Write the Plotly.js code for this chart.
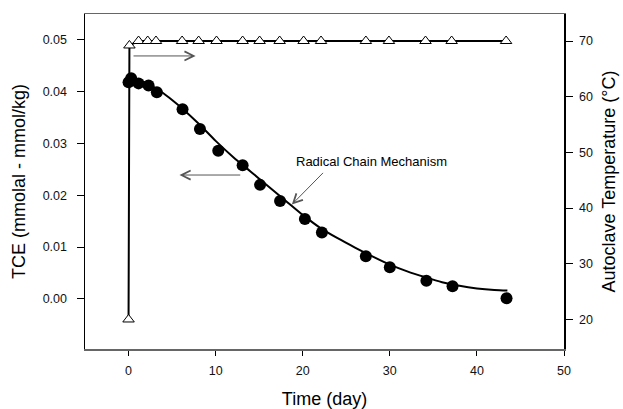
<!DOCTYPE html>
<html><head><meta charset="utf-8">
<script src="https://cdn.plot.ly/plotly-3.0.1.min.js"></script>
<style>html,body{margin:0;padding:0;background:#fff}#chart{width:623px;height:409px}</style>
</head><body><div id="chart"></div>
<script>
// TCE measurements (filled circles)
const tceDays = [0, 0.3, 1.15, 2.3, 3.25, 6.2, 8.2, 10.3, 13.1, 15.1, 17.4, 20.25, 22.2, 27.25, 30.0, 34.2, 37.2, 43.4];
const tceValues = [0.0418, 0.0426, 0.0416, 0.0412, 0.0399, 0.0366, 0.0328, 0.0286, 0.0258, 0.0220, 0.0189, 0.0154, 0.0128, 0.0082, 0.0061, 0.0035, 0.0024, 0.0001];
// Fitted curve (Radical Chain Mechanism)
const fitDays = [0, 1, 2, 3, 4, 5, 6, 8, 10, 12, 14, 16, 18, 20, 22, 24, 26, 28, 30, 32, 34, 36, 38, 40, 42, 43.5];
const fitTce = [0.0425, 0.0423, 0.0417, 0.0408, 0.0397, 0.0384, 0.0370, 0.0339, 0.0305, 0.0274, 0.0246, 0.0218, 0.0190, 0.0162, 0.0137, 0.0117, 0.0099, 0.0082, 0.0066, 0.0053, 0.0042, 0.0032, 0.0025, 0.0020, 0.0017, 0.0016];
// Autoclave temperature (open triangles)
const tempDays = [0, 0.1, 1.15, 2.2, 3.15, 6.15, 8.05, 10.1, 13.1, 15.05, 17.35, 20.1, 22.1, 27.25, 29.9, 34.1, 37.1, 43.35];
const tempValues = [20, 69.2, 70, 70, 70, 70, 70, 70, 70, 70, 70, 70, 70, 70, 70, 70, 70, 70];
// Axis ticks
const xTicks = [0, 10, 20, 30, 40, 50];
const yTicks = [0.00, 0.01, 0.02, 0.03, 0.04, 0.05];
const y2Ticks = [20, 30, 40, 50, 60, 70];

const FONT = 'Arial, "Liberation Sans", sans-serif';

const traces = [
  {x: fitDays, y: fitTce, type: 'scatter', mode: 'lines', line: {color: '#000', width: 2, shape: 'spline', smoothing: 0.8}, hoverinfo: 'skip', showlegend: false},
  {x: tceDays, y: tceValues, type: 'scatter', mode: 'markers', marker: {color: '#000', size: 12, symbol: 'circle'}, showlegend: false},
  {x: tempDays, y: tempValues, yaxis: 'y2', type: 'scatter', mode: 'lines+markers',
   line: {color: '#000', width: 2}, marker: {symbol: 'triangle-up', size: 10, color: '#fff', line: {color: '#000', width: 1}}, showlegend: false}
];

const arrowCommon = {text: '', showarrow: true, arrowhead: 5, arrowsize: 1.8, arrowwidth: 1, arrowcolor: '#555', xref: 'x', yref: 'y', axref: 'x', ayref: 'y', standoff: 0, startstandoff: 0};

const layout = {
  width: 623, height: 409,
  margin: {l: 85, r: 59, t: 14, b: 60},
  paper_bgcolor: '#fff', plot_bgcolor: '#fff',
  font: {family: FONT, size: 12.5, color: '#000'},
  showlegend: false,
  xaxis: {
    range: [-5, 50], tickvals: xTicks, ticktext: xTicks.map(String),
    ticks: 'outside', ticklen: 5, tickcolor: '#000', tickwidth: 1,
    showline: true, linecolor: '#666', linewidth: 1.5, mirror: true,
    showgrid: false, zeroline: false, ticklabelstandoff: 4,
    tickfont: {family: FONT, size: 12.5, color: '#111'},
    title: {text: 'Time (day)', font: {family: FONT, size: 18, color: '#000'}, standoff: 20}
  },
  yaxis: {
    range: [-0.0097, 0.055], tickvals: yTicks, tickformat: '.2f',
    ticks: 'outside', ticklen: 7, tickcolor: '#000', tickwidth: 1,
    showline: true, linecolor: '#000', linewidth: 1.5,
    showgrid: false, zeroline: false, ticklabelstandoff: 7,
    tickfont: {family: FONT, size: 12.5, color: '#111'},
    title: {text: 'TCE (mmolal - mmol/kg)', font: {family: FONT, size: 18, color: '#000'}, standoff: 12}
  },
  yaxis2: {
    range: [14.7, 74.85], tickvals: y2Ticks, overlaying: 'y', side: 'right', anchor: 'x',
    ticks: 'outside', ticklen: 7, tickcolor: '#000', tickwidth: 1,
    showline: true, linecolor: '#000', linewidth: 1.5,
    showgrid: false, zeroline: false, ticklabelstandoff: 4,
    tickfont: {family: FONT, size: 12.5, color: '#111'},
    title: {text: 'Autoclave Temperature (°C)', font: {family: FONT, size: 18, color: '#000'}, standoff: 10}
  },
  annotations: [
    Object.assign({}, arrowCommon, {x: 7.7, y: 0.0469, ax: 0.4, ay: 0.0469}),
    Object.assign({}, arrowCommon, {x: 5.85, y: 0.0239, ax: 13.0, ay: 0.0239}),
    Object.assign({}, arrowCommon, {x: 18.75, y: 0.0182, ax: 22.5, ay: 0.0246}),
    {text: 'Radical Chain Mechanism', x: 27.9, y: 0.0266, xref: 'x', yref: 'y', showarrow: false,
     font: {family: FONT, size: 13, color: '#000'}}
  ]
};

Plotly.newPlot('chart', traces, layout, {displayModeBar: false, staticPlot: true});
</script>
</body></html>
